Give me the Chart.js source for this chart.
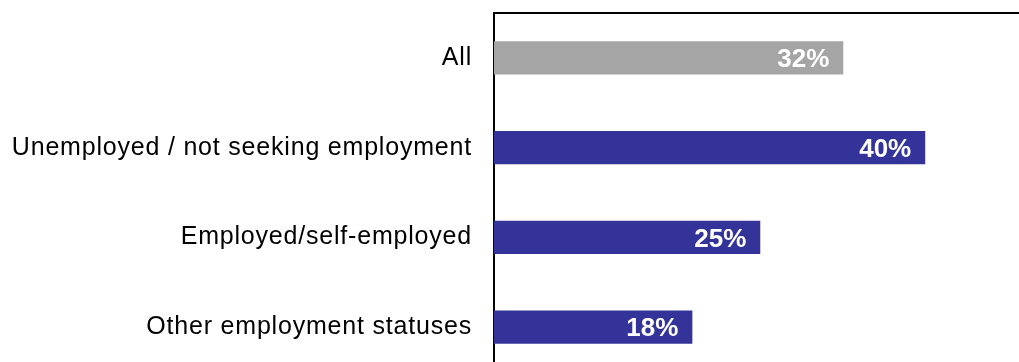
<!DOCTYPE html>
<html>
<head>
<meta charset="utf-8">
<script src="https://cdn.jsdelivr.net/npm/chart.js@4/dist/chart.umd.min.js"></script>
<style>
  html, body { margin: 0; padding: 0; background: #ffffff; overflow: hidden; }
  #wrap { width: 1019px; height: 362px; overflow: hidden; position: relative; }
  canvas { display: block; }
</style>
</head>
<body>
<div id="wrap"><canvas id="c" width="1019" height="372" style="width:1019px;height:372px"></canvas></div>
<script>
const categories = ["All", "Unemployed / not seeking employment", "Employed/self-employed", "Other employment statuses"];
const values = [32.4, 40.0, 24.7, 18.4];
const barColors = ["#A5A5A5", "#333399", "#333399", "#333399"];

const textSpacing = {
  id: 'textSpacing',
  beforeDraw(chart) { try { chart.ctx.letterSpacing = '0.8px'; } catch (e) {} },
  afterDraw(chart) { try { chart.ctx.letterSpacing = '0px'; } catch (e) {} }
};

const valueLabels = {
  id: 'valueLabels',
  afterDatasetsDraw(chart) {
    const ctx = chart.ctx;
    const meta = chart.getDatasetMeta(0);
    ctx.save();
    try { ctx.letterSpacing = '0px'; } catch (e) {}
    ctx.font = "bold 26px 'Liberation Sans', Arial, sans-serif";
    ctx.fillStyle = "#ffffff";
    ctx.textAlign = "right";
    ctx.textBaseline = "middle";
    meta.data.forEach((bar, i) => {
      const v = chart.data.datasets[0].data[i];
      ctx.fillText(Math.round(v) + "%", bar.x - 14, bar.y + 2);
    });
    ctx.restore();
  }
};

new Chart(document.getElementById('c'), {
  type: 'bar',
  data: {
    labels: categories,
    datasets: [{
      data: values,
      backgroundColor: barColors,
      borderWidth: 0,
      barPercentage: 0.37,
      categoryPercentage: 1.0
    }]
  },
  options: {
    indexAxis: 'y',
    responsive: false,
    maintainAspectRatio: false,
    animation: false,
    devicePixelRatio: 1,
    layout: { padding: { top: 13, right: 0, bottom: 0, left: 0 } },
    plugins: { legend: { display: false }, tooltip: { enabled: false } },
    scales: {
      x: {
        position: 'top',
        min: 0,
        max: 48.7,
        afterFit(scale) { scale.height = 0; scale.paddingLeft = 0; scale.paddingRight = 0; },
        ticks: { display: false },
        grid: { display: false, drawTicks: false },
        border: { display: true, color: '#000000', width: 2 }
      },
      y: {
        afterFit(scale) { scale.width = 494; scale.paddingTop = 0; scale.paddingBottom = 0; },
        ticks: {
          color: '#000000',
          padding: 22,
          font: { family: "'Liberation Sans', Arial, sans-serif", size: 25 }
        },
        grid: { display: false, drawTicks: false },
        border: { display: true, color: '#000000', width: 2 }
      }
    }
  },
  plugins: [textSpacing, valueLabels]
});
</script>
</body>
</html>
